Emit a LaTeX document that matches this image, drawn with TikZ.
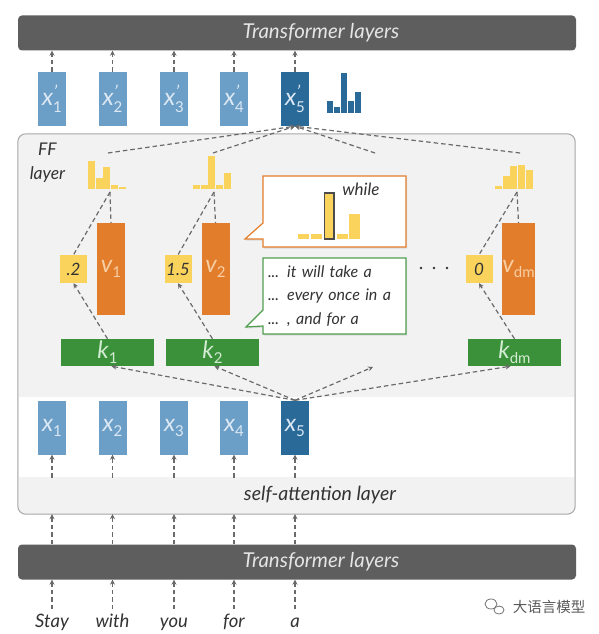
\documentclass[tikz,border=0pt]{standalone}
\usepackage{fontspec}
\setmainfont{Lato}
\newfontfamily\cjkfont{Noto Sans CJK SC}
\usetikzlibrary{arrows.meta,shapes.callouts,shadows}
\definecolor{barGray}{HTML}{5E5E5E}
\definecolor{lblue}{HTML}{6C9FC7}
\definecolor{dblue}{HTML}{2A6A99}
\definecolor{xtext}{HTML}{DCE8F3}
\definecolor{orng}{HTML}{E27D2C}
\definecolor{vtext}{HTML}{F8CFA4}
\definecolor{ylw}{HTML}{FAD35C}
\definecolor{grn}{HTML}{3A913A}
\definecolor{ktext}{HTML}{D2EBD2}
\definecolor{panel}{HTML}{F2F2F2}
\definecolor{lineG}{HTML}{6A6A6A}
\definecolor{txtD}{HTML}{333333}
\definecolor{callG}{HTML}{4E9E4E}
\newcommand\mylbl[2]{{\fontsize{24}{24}\selectfont\itshape #1}{\fontsize{15}{15}\selectfont\raisebox{-5pt}{#2}}}
\newcommand\myplbl[2]{{\fontsize{24}{24}\selectfont\itshape #1}\rlap{\fontsize{18}{18}\selectfont\raisebox{7pt}{\kern0.5pt\itshape '}}{\fontsize{15}{15}\selectfont\raisebox{-7pt}{#2}}}
\tikzset{
  conn/.style={draw=lineG, line width=1.2pt, dash pattern=on 4.5pt off 3pt, -{Stealth[length=5pt,width=5pt]}},
  plain/.style={draw=lineG, line width=1.2pt, dash pattern=on 4.5pt off 3pt},
  tbar/.style={fill=barGray, rounded corners=4pt, minimum width=558pt, minimum height=35pt, inner sep=0pt},
  tlabel/.style={text=white!90!black, font=\fontsize{20.5}{20.5}\selectfont\itshape},
  xbox/.style={fill=lblue, minimum width=28pt, minimum height=54pt, inner sep=0pt, text=xtext},
  xdbox/.style={xbox, fill=dblue},
  vbox/.style={fill=orng, minimum width=28pt, minimum height=92pt, inner sep=0pt, text=vtext},
  sbox/.style={fill=ylw, minimum width=27pt, minimum height=28pt, inner sep=0pt, text=txtD, font=\fontsize{17}{17}\selectfont\itshape},
  kbox/.style={fill=grn, minimum width=93pt, minimum height=27pt, inner sep=0pt, text=ktext},
  word/.style={text=txtD, font=\fontsize{18.5}{18.5}\selectfont\itshape, inner sep=1pt, anchor=base},
  calltxt/.style={text=txtD, font=\fontsize{16}{23.5}\selectfont\itshape}
}
\begin{document}
\begin{tikzpicture}[x=1pt,y=-1pt]
\useasboundingbox (0,0) rectangle (599,634);
% top transformer bar
\node[tbar] (tt) at (297,33) {};
\node[tlabel] (ttl) at (321,33) {Transformer layers};
% outer box
\node[fill=panel, rounded corners=8pt, minimum width=557pt, minimum height=380pt, inner sep=0pt] (outer) at (296.5,324) {};
\fill[white] (18.6,397) rectangle (574.4,477);
\node[fill=panel, rounded corners=8pt, minimum width=557pt, minimum height=36pt, inner sep=0pt] (sa) at (296.5,496) {};
\draw[draw=black!35, line width=1pt, rounded corners=8pt] (outer.north west) rectangle (outer.south east);
\node[text=txtD, font=\fontsize{19.5}{19.5}\selectfont\itshape] (satext) at (320,495) {self-attention layer};
\node[text=txtD, font=\fontsize{17.5}{24}\selectfont\itshape, align=center] (fflabel) at (47.5,163) {FF\\layer};
% x' boxes
\node[xbox] (xp1) at (52,99) {\myplbl{x}{1}};
\node[xbox] (xp2) at (112.5,99) {\myplbl{x}{2}};
\node[xbox] (xp3) at (174,99) {\myplbl{x}{3}};
\node[xbox] (xp4) at (234,99) {\myplbl{x}{4}};
\node[xdbox] (xp5) at (295,99) {\myplbl{x}{5}};
\foreach \i in {1,...,5} \draw[conn] (xp\i.north) -- (xp\i.north |- tt.south);
% blue histogram
\foreach \x/\h in {327/12, 334/6, 341/40, 348/12, 355/21}
  \fill[dblue] (\x,113) rectangle ++(6.3,-\h);
% x boxes
\node[xbox] (x1) at (52,427.5) {\mylbl{x}{1}};
\node[xbox] (x2) at (112.5,427.5) {\mylbl{x}{2}};
\node[xbox] (x3) at (174,427.5) {\mylbl{x}{3}};
\node[xbox] (x4) at (234,427.5) {\mylbl{x}{4}};
\node[xdbox] (x5) at (295,427.5) {\mylbl{x}{5}};
\foreach \i in {1,...,5} \draw[conn] (x\i.south |- sa.north) -- (x\i.south);
% bottom transformer bar
\node[tbar] (bb) at (297,562) {};
\node[tlabel] (bbl) at (321,562) {Transformer layers};
\foreach \i in {1,...,5} \draw[conn] (x\i.south |- bb.north) -- (x\i.south |- outer.south);
% words
\node[word] (w1) at (52,627) {Stay};
\node[word] (w2) at (112.5,627) {with};
\node[word] (w3) at (174,627) {you};
\node[word] (w4) at (234,627) {for};
\node[word] (w5) at (295,627) {a};
\foreach \i in {1,...,5} \draw[conn] (w\i.base |- 0,609) -- (w\i.base |- bb.south);
% FF contents
\node[sbox] (s1) at (73.5,269) {.2};
\node[sbox] (s2) at (178,269) {1.5};
\node[sbox] (sd) at (479,269) {0};
\node[vbox] (v1) at (111,269) {\mylbl{v}{1}};
\node[vbox] (v2) at (215.5,269) {\mylbl{v}{2}};
\node[vbox] (vd) at (518.5,269) {\mylbl{v}{dm}};
\node[kbox] (k1) at (107.5,352.5) {\mylbl{k}{1}};
\node[kbox] (k2) at (212.5,352.5) {\mylbl{k}{2}};
\node[kbox] (kd) at (514.5,352.5) {\mylbl{k}{dm}};
% yellow histograms
\foreach \x/\h in {88/28, 95.7/11, 103.4/22, 111.1/4, 118.8/2}
  \fill[ylw] (\x,189) rectangle ++(7,-\h);
\foreach \x/\h in {193/4, 200.7/4, 208.4/33, 216.1/4, 223.8/16}
  \fill[ylw] (\x,189) rectangle ++(7,-\h);
\foreach \x/\h in {495/3, 502.7/13, 510.4/23, 518.1/24, 525.8/19}
  \fill[ylw] (\x,189) rectangle ++(7,-\h);
\coordinate (h1b) at (110,192);
\coordinate (h2b) at (214,192);
\coordinate (hdb) at (517,192);
\coordinate (h1t) at (108,153);
\coordinate (h2t) at (213,153);
\coordinate (dtt) at (375,153);
\coordinate (hdt) at (520,153);
\coordinate (dtb) at (373,367);
% hist links
\draw[plain] (h1b) -- (s1.north);
\draw[plain] (h1b) -- (v1.north);
\draw[plain] (h2b) -- (s2.north);
\draw[plain] (h2b) -- (v2.north);
\draw[plain] (hdb) -- (sd.north);
\draw[plain] (hdb) -- (vd.north);
% key to scalar
\draw[conn] (k1.north) -- (s1.south);
\draw[conn] (k2.north) -- (s2.south);
\draw[conn] (kd.north) -- (sd.south);
% to x'5
\draw[conn] (h1t) -- (xp5.south);
\draw[conn] (h2t) -- (xp5.south);
\draw[conn] (dtt) -- (xp5.south);
\draw[conn] (hdt) -- (xp5.south);
% from x5
\draw[conn] (x5.north) -- ([xshift=4pt]k1.south);
\draw[conn] (x5.north) -- ([xshift=2pt]k2.south);
\draw[conn] (x5.north) -- (dtb);
\draw[conn] (x5.north) -- ([xshift=-4pt]kd.south);
% dots
\foreach \x in {421,434,447} \fill[txtD] (\x,268) circle (1.3);
% callouts
\node[rectangle callout, draw=orng, line width=1.2pt, fill=white, minimum width=143pt, minimum height=71pt,
      callout absolute pointer={(245,239)}, callout pointer width=16pt,
      drop shadow={opacity=0.2, shadow xshift=1pt, shadow yshift=-1.5pt}] (cw) at (334.5,211.5) {};
\foreach \x/\h in {298/5, 311/5, 337/5, 349/25}
  \fill[ylw] (\x,239) rectangle ++(10.5,-\h);
\filldraw[fill=ylw, draw=black!70, line width=1.2pt] (324.5,239) rectangle (334,193);
\node[text=txtD, font=\fontsize{17}{17}\selectfont\itshape] (wh) at (361,189) {while};
\node[rectangle callout, draw=callG, line width=1.2pt, fill=white, minimum width=143pt, minimum height=76pt,
      text width=133pt, align=left, inner sep=5pt, calltxt,
      callout absolute pointer={(246,327)}, callout pointer width=16pt,
      drop shadow={opacity=0.2, shadow xshift=1pt, shadow yshift=-1.5pt}] (cg) at (334.5,296)
      {... it will take a\\... every once in a\\... , and for a};
% watermark
\draw[black!55, line width=0.8pt] (491,604) ellipse (6 and 5);
\draw[black!55, line width=0.8pt] (499,610) ellipse (5 and 4);
\node[text=black!65, font=\cjkfont\fontsize{14.5}{14.5}\selectfont] (wm) at (549,607) {大语言模型};
\end{tikzpicture}
\end{document}
